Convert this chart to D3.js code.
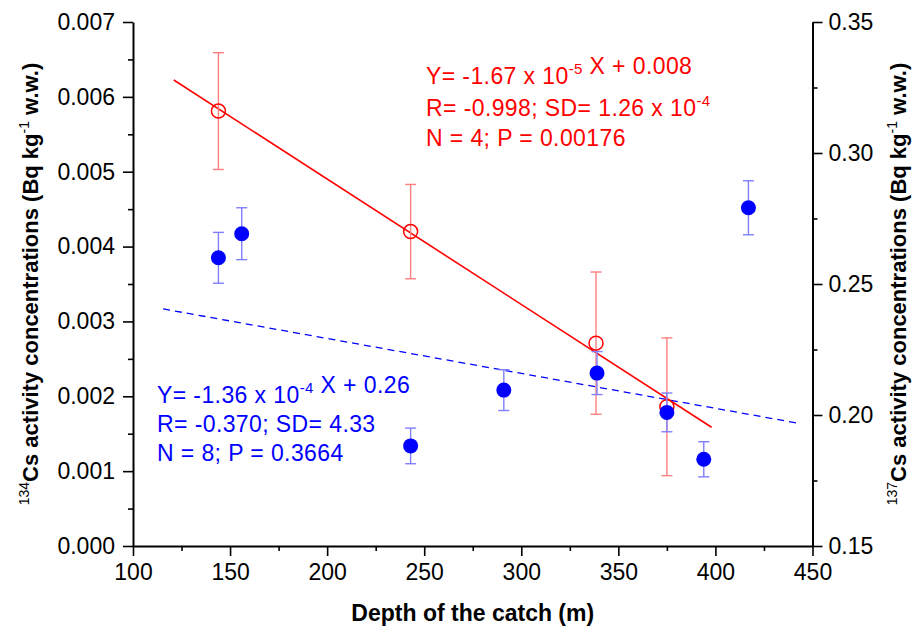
<!DOCTYPE html>
<html>
<head>
<meta charset="utf-8">
<script src="https://cdn.jsdelivr.net/npm/d3@7"></script>
<style>
  body { margin: 0; background: #fff; }
  text { font-family: Arial, "Liberation Sans", sans-serif; }
</style>
</head>
<body>
<div class="chart"></div>
<script>
// 134Cs (left axis, red open circles)
const redDepth = [144, 243, 338.5, 375];
const red134 = [0.00581, 0.00420, 0.00271, 0.00186];
const red134Err = [0.00078, 0.00063, 0.00095, 0.00092];

// 137Cs (right axis, blue filled circles)
const blueDepth = [144, 156, 243, 291, 339, 375, 394, 417];
const blue137 = [0.2600, 0.2692, 0.1882, 0.2095, 0.2160, 0.2010, 0.1831, 0.2791];
const blue137Err = [0.0097, 0.0099, 0.0068, 0.0078, 0.0082, 0.0074, 0.0067, 0.0103];

// fitted lines, end points
const redFitX = [121, 398];
const redFitY = [0.006225, 0.001586];
const blueFitX = [115.5, 443];
const blueFitY = [0.2405, 0.1968];

const xTicks = [100, 150, 200, 250, 300, 350, 400, 450];
const leftTicks = [0, 0.001, 0.002, 0.003, 0.004, 0.005, 0.006, 0.007];
const rightTicks = [0.15, 0.20, 0.25, 0.30, 0.35];

let margin = { top: 22, right: 101.5, bottom: 84, left: 133 },
    width = 914 - margin.left - margin.right,
    height = 630 - margin.top - margin.bottom;

let svg = d3.select(".chart").append("svg")
    .attr("width", 914)
    .attr("height", 630)
    .append("g")
    .attr("transform", "translate(" + margin.left + "," + margin.top + ")");

let x = d3.scaleLinear().domain([100, 450]).range([0, width]);
let yL = d3.scaleLinear().domain([0, 0.007]).range([height, 0]);
let yR = d3.scaleLinear().domain([0.15, 0.35]).range([height, 0]);

const minorX = d3.range(125, 450, 50);
const minorL = d3.range(0.0005, 0.007, 0.001);
const minorR = d3.range(0.175, 0.35, 0.05);

function styleAxis(g) {
    g.selectAll(".domain").attr("stroke", "#000").attr("stroke-width", 2);
    g.selectAll(".tick line").attr("stroke", "#000").attr("stroke-width", 1.6);
    g.selectAll("text").attr("font-size", 23).attr("fill", "#000")
        .attr("font-family", 'Arial, "Liberation Sans", sans-serif');
}

// minor ticks
svg.append("g").attr("transform", "translate(0," + height + ")")
    .call(d3.axisBottom(x).tickValues(minorX).tickSize(5).tickFormat(""))
    .call(g => g.select(".domain").remove())
    .call(styleAxis);
svg.append("g")
    .call(d3.axisLeft(yL).tickValues(minorL).tickSize(5).tickFormat(""))
    .call(g => g.select(".domain").remove())
    .call(styleAxis);
svg.append("g").attr("transform", "translate(" + width + ",0)")
    .call(d3.axisRight(yR).tickValues(minorR).tickSize(5).tickFormat(""))
    .call(g => g.select(".domain").remove())
    .call(styleAxis);

// major axes
svg.append("g").attr("transform", "translate(0," + height + ")")
    .call(d3.axisBottom(x).tickValues(xTicks).tickSize(10).tickSizeOuter(0).tickPadding(8).tickFormat(d3.format("d")))
    .call(styleAxis);
svg.append("g")
    .call(d3.axisLeft(yL).tickValues(leftTicks).tickSize(10).tickSizeOuter(0).tickPadding(8).tickFormat(d3.format(".3f")))
    .call(styleAxis);
svg.append("g").attr("transform", "translate(" + width + ",0)")
    .call(d3.axisRight(yR).tickValues(rightTicks).tickSize(10).tickSizeOuter(0).tickPadding(6).tickFormat(d3.format(".2f")))
    .call(styleAxis);

// fit lines
const redFit = redFitX.map((d, i) => [d, redFitY[i]]);
const blueFit = blueFitX.map((d, i) => [d, blueFitY[i]]);

svg.append("path")
    .datum(redFit)
    .attr("d", d3.line().x(d => x(d[0])).y(d => yL(d[1])))
    .attr("fill", "none")
    .attr("stroke", "#ff0000")
    .attr("stroke-width", 1.6);

svg.append("path")
    .datum(blueFit)
    .attr("d", d3.line().x(d => x(d[0])).y(d => yR(d[1])))
    .attr("fill", "none")
    .attr("stroke", "#0000ff")
    .attr("stroke-width", 1.3)
    .attr("stroke-dasharray", "7,5");

// points + error bars
const redData = redDepth.map((d, i) => ({ x: d, y: red134[i], e: red134Err[i] }));
const blueData = blueDepth.map((d, i) => ({ x: d, y: blue137[i], e: blue137Err[i] }));

function errorBars(data, y, color) {
    let g = svg.append("g").attr("stroke", color).attr("stroke-width", 1.4);
    g.selectAll(".v").data(data).join("line")
        .attr("x1", d => x(d.x)).attr("x2", d => x(d.x))
        .attr("y1", d => y(d.y - d.e)).attr("y2", d => y(d.y + d.e));
    g.selectAll(".t").data(data).join("line")
        .attr("x1", d => x(d.x) - 5.5).attr("x2", d => x(d.x) + 5.5)
        .attr("y1", d => y(d.y + d.e)).attr("y2", d => y(d.y + d.e));
    g.selectAll(".b").data(data).join("line")
        .attr("x1", d => x(d.x) - 5.5).attr("x2", d => x(d.x) + 5.5)
        .attr("y1", d => y(d.y - d.e)).attr("y2", d => y(d.y - d.e));
}

errorBars(redData, yL, "#ff7f7f");
svg.append("g").selectAll("circle").data(redData).join("circle")
    .attr("cx", d => x(d.x))
    .attr("cy", d => yL(d.y))
    .attr("r", 7)
    .attr("fill", "none")
    .attr("stroke", "#ff0000")
    .attr("stroke-width", 1.5);

errorBars(blueData, yR, "#7f7fff");
svg.append("g").selectAll("circle").data(blueData).join("circle")
    .attr("cx", d => x(d.x))
    .attr("cy", d => yR(d.y))
    .attr("r", 7.5)
    .attr("fill", "#0000ff");

// annotation text, parts: plain strings or {sup: "..."}
function eqLine(px, py, color, parts) {
    let t = svg.append("text")
        .attr("x", px).attr("y", py)
        .attr("font-size", 23)
        .attr("letter-spacing", 0.4)
        .attr("fill", color);
    parts.forEach(p => {
        if (typeof p === "object") {
            t.append("tspan").attr("dy", -10).attr("font-size", 15).text(p.sup);
            t.append("tspan").attr("dy", 10).text("");
        } else {
            t.append("tspan").text(p);
        }
    });
}

const ox = margin.left, oy = margin.top;
eqLine(426 - ox, 84 - oy, "#ff0000", ["Y= -1.67 x 10", { sup: "-5" }, " X + 0.008"]);
eqLine(426 - ox, 116 - oy, "#ff0000", ["R= -0.998; SD= 1.26 x 10", { sup: "-4" }]);
eqLine(426 - ox, 146 - oy, "#ff0000", ["N = 4; P = 0.00176"]);

eqLine(157 - ox, 403 - oy, "#0000ff", ["Y= -1.36 x 10", { sup: "-4" }, " X + 0.26"]);
eqLine(157 - ox, 432 - oy, "#0000ff", ["R= -0.370; SD= 4.33"]);
eqLine(157 - ox, 461 - oy, "#0000ff", ["N = 8; P = 0.3664"]);

// axis titles
svg.append("text")
    .attr("x", width / 2)
    .attr("y", 621 - oy)
    .attr("text-anchor", "middle")
    .attr("font-size", 23)
    .attr("font-weight", "bold")
    .text("Depth of the catch (m)");

function yTitle(px, iso) {
    let t = svg.append("text")
        .attr("transform", "translate(" + px + "," + (height / 2) + ") rotate(-90)")
        .attr("text-anchor", "middle")
        .attr("font-size", 22)
        .attr("font-weight", "bold");
    t.append("tspan").attr("dy", -9).attr("font-size", 14).attr("font-weight", "normal").text(iso);
    t.append("tspan").attr("dy", 9).text("Cs activity concentrations (Bq kg");
    t.append("tspan").attr("dy", -9).attr("font-size", 14).attr("font-weight", "normal").text("-1");
    t.append("tspan").attr("dy", 9).text(" w.w.)");
}
yTitle(38 - ox, "134");
yTitle(906 - ox, "137");
</script>
</body>
</html>
